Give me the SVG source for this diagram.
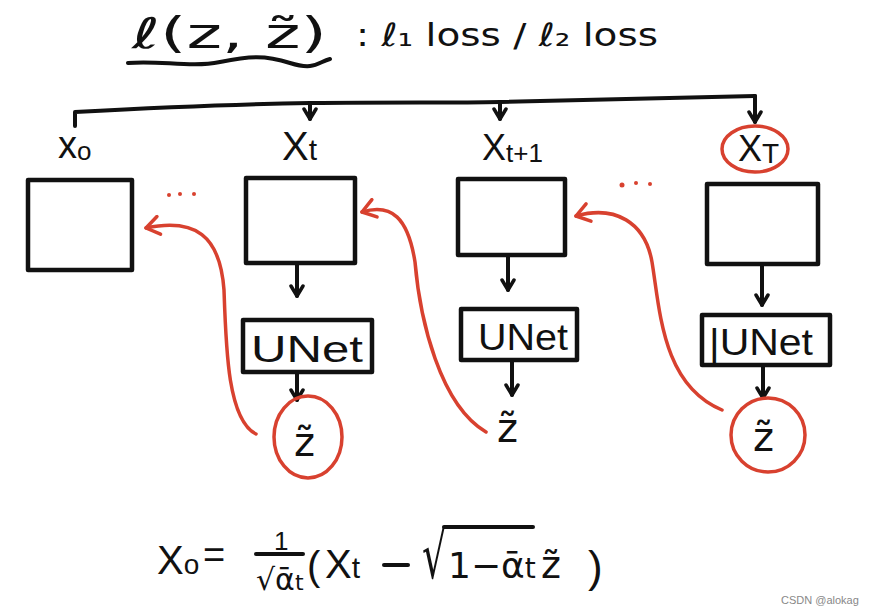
<svg xmlns="http://www.w3.org/2000/svg" width="874" height="616" viewBox="0 0 874 616">
<defs>
<style>
.ink{stroke:#111;stroke-width:4;fill:none;stroke-linecap:round;stroke-linejoin:round}
.red{stroke:#d8412f;stroke-width:3.5;fill:none;stroke-linecap:round;stroke-linejoin:round}
.box{stroke:#111;stroke-width:4.5;fill:#fff;stroke-linejoin:round}
.t{font-family:"Liberation Sans","DejaVu Sans",sans-serif;fill:#111}
.m{font-family:"DejaVu Sans","Liberation Sans",sans-serif;fill:#111}
</style>
<marker id="ab" viewBox="0 0 16 16" refX="12" refY="8" markerWidth="16" markerHeight="16" markerUnits="userSpaceOnUse" orient="auto">
<path d="M2,2 L12,8 L2,14" fill="none" stroke="#111" stroke-width="3.5" stroke-linecap="round" stroke-linejoin="round"/>
</marker>
<marker id="ar" viewBox="0 0 22 22" refX="18" refY="11" markerWidth="22" markerHeight="22" markerUnits="userSpaceOnUse" orient="auto">
<path d="M5,2 L18,11 L5,20" fill="none" stroke="#d8412f" stroke-width="3.5" stroke-linecap="round" stroke-linejoin="round"/>
</marker>
</defs>
<rect width="874" height="616" fill="#fff"/>

<g id="title">
<text class="m" x="132" y="48" font-size="42" textLength="195" lengthAdjust="spacingAndGlyphs">ℓ(z, z̃)</text>
<path class="ink" stroke-width="3" d="M128,63 C 160,60 190,68 220,62 S 265,55 290,63 S 318,62 330,59"/>
<text class="m" x="356" y="46" font-size="32" textLength="302" lengthAdjust="spacingAndGlyphs">: ℓ₁ loss / ℓ₂ loss</text>
</g>

<g id="connectors">
<path class="ink" d="M75,126 L75,112 C 150,108 250,104 310,103 C 400,102 450,103 500,102 C 600,100 700,97 755,96"/>
<path class="ink" d="M310,103 L310,119" marker-end="url(#ab)"/>
<path class="ink" d="M500,102 L500,119" marker-end="url(#ab)"/>
<path class="ink" d="M755,96 L755,122" marker-end="url(#ab)"/>
<path class="ink" d="M297,264 L297,296" marker-end="url(#ab)"/>
<path class="ink" d="M508,256 L508,290" marker-end="url(#ab)"/>
<path class="ink" d="M762,266 L762,305" marker-end="url(#ab)"/>
<path class="ink" d="M297,373 L297,400" marker-end="url(#ab)"/>
<path class="ink" d="M512,362 L512,395" marker-end="url(#ab)"/>
<path class="ink" d="M763,366 L763,398" marker-end="url(#ab)"/>
<path class="red" d="M256,434 C 228,420 226,350 224,290 C 220,235 195,218 146,228" marker-end="url(#ar)"/>
<path class="red" d="M486,432 C 440,405 420,320 415,262 C 408,218 392,203 362,212" marker-end="url(#ar)"/>
<path class="red" d="M722,410 C 662,385 660,310 652,262 C 645,222 615,205 576,216" marker-end="url(#ar)"/>
<g fill="#d8412f">
<circle cx="169" cy="195" r="2"/><circle cx="180" cy="194" r="2"/><circle cx="194" cy="194" r="2"/>
<circle cx="622" cy="185" r="2.5"/><circle cx="636" cy="183" r="2"/><circle cx="650" cy="184" r="2"/>
</g>
</g>

<g id="node-x0">
<text class="t" x="58" y="158" font-size="38">x<tspan font-size="26" dy="2">o</tspan></text>
<rect class="box" x="28" y="180" width="104" height="90"/>
</g>
<g id="node-xt">
<text class="t" x="282" y="160" font-size="40">X<tspan font-size="30" dy="0">t</tspan></text>
<rect class="box" x="246" y="178" width="109" height="85"/>
</g>
<g id="node-xt1">
<text class="t" x="482" y="160" font-size="36">X<tspan font-size="26" dy="2">t+1</tspan></text>
<rect class="box" x="458" y="179" width="107" height="76"/>
</g>
<g id="node-xT">
<ellipse class="red" cx="755" cy="149" rx="33" ry="23"/>
<text class="t" x="738" y="161" font-size="36">X<tspan font-size="28" dy="2">T</tspan></text>
<rect class="box" x="707" y="184" width="111" height="80"/>
</g>

<g id="unet-t">
<rect class="box" x="243" y="320" width="129" height="52"/>
<text class="t" x="251" y="362" font-size="36" textLength="112" lengthAdjust="spacingAndGlyphs">UNet</text>
</g>
<g id="unet-t1">
<rect class="box" x="461" y="309" width="116" height="51"/>
<text class="t" x="478" y="350" font-size="36" textLength="90" lengthAdjust="spacingAndGlyphs">UNet</text>
</g>
<g id="unet-T">
<rect class="box" x="702" y="315" width="128" height="50"/>
<text class="t" x="709" y="355" font-size="36" textLength="104" lengthAdjust="spacingAndGlyphs">|UNet</text>
</g>

<g id="z-t">
<ellipse class="red" cx="308" cy="437" rx="34" ry="41"/>
<text class="m" x="294" y="456" font-size="40">z̃</text>
</g>
<g id="z-t1">
<text class="m" x="497" y="442" font-size="40">z̃</text>
</g>
<g id="z-T">
<circle class="red" cx="768" cy="435" r="37"/>
<text class="m" x="753" y="451" font-size="40">z̃</text>
</g>

<g id="formula">
<text class="t" x="157" y="574" font-size="40">X<tspan font-size="28" dy="0">o</tspan></text>
<text class="t" x="203" y="568" font-size="38">=</text>
<text class="t" x="274" y="550" font-size="26">1</text>
<line class="ink" x1="256" y1="554" x2="303" y2="554" stroke-width="3"/>
<text class="m" x="256" y="590" font-size="30">√ᾱ<tspan font-size="22">t</tspan></text>
<text class="t" x="307" y="580" font-size="40">(</text>
<text class="t" x="325" y="578" font-size="40">X<tspan font-size="30">t</tspan></text>
<line class="ink" x1="384" y1="565" x2="408" y2="565"/>
<text class="m" transform="translate(422,578) scale(0.6,1)" font-size="64">√</text>
<line class="ink" x1="444" y1="527" x2="533" y2="527" stroke-width="3"/>
<text class="m" x="448" y="578" font-size="36">1−ᾱ<tspan font-size="28">t</tspan></text>
<text class="m" x="541" y="578" font-size="38">z̃</text>
<text class="t" x="588" y="582" font-size="44">)</text>
</g>

<text x="781" y="604" font-family="Liberation Sans, sans-serif" font-size="11" fill="#888">CSDN @alokag</text>
</svg>
